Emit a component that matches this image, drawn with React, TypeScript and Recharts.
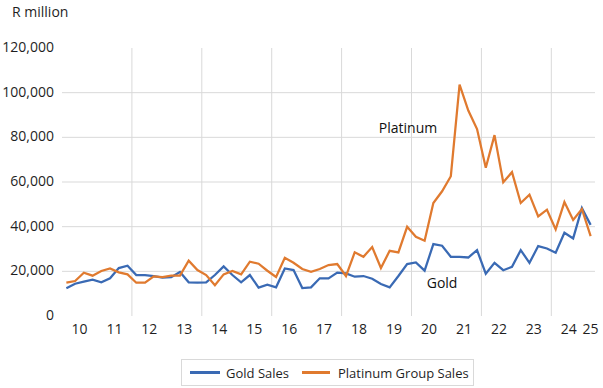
import React from 'react';
import { LineChart, Line, XAxis, YAxis, ReferenceLine, ReferenceDot, Legend } from 'recharts';

const years = ['10', '11', '12', '13', '14', '15', '16', '17', '18', '19', '20', '21', '22', '23', '24', '25'];
const quarterNames = ['Q1', 'Q2', 'Q3', 'Q4'];

const goldSales = [
  12400, 14460, 15350, 16250, 15080, 16870, 21470, 22500, 18350, 18350,
  17900, 17150, 17400, 19700, 15080, 15000, 15080, 18350, 22200, 18350,
  15080, 18350, 12700, 14000, 12840, 21300, 20580, 12530, 12840, 16870,
  16870, 19400, 19100, 17600, 17900, 16700, 14320, 12840, 17900, 23260,
  24000, 20300, 32200, 31450, 26500, 26500, 26200, 29500, 18950, 23800,
  20500, 22000, 29500, 23800, 31300, 30250, 28300, 37300, 34750, 48300,
  40800,
];

const platinumSales = [
  14900, 15660, 19400, 18050, 20130, 21300, 19550, 18660, 14900, 14900,
  17760, 17400, 18050, 18050, 24750, 20580, 18350, 13740, 18660, 20130,
  18660, 24300, 23400, 20270, 17450, 26080, 23850, 21030, 19830, 21030,
  22800, 23260, 17900, 28500, 26530, 30870, 21470, 29200, 28500, 39950,
  35470, 33700, 50600, 55850, 62600, 103600, 92000, 83700, 66400, 81000,
  59900, 64400, 50600, 54350, 44600, 47600, 38800, 51000, 43000, 47900,
  35800,
];

const yTicks = [0, 20000, 40000, 60000, 80000, 100000, 120000];
const yGridValues = [20000, 40000, 60000, 80000, 100000];

const annotations = [
  { text: 'Platinum', x: 39.1, y: 84300 },
  { text: 'Gold', x: 43.0, y: 14900 },
];

const categories: string[] = years.flatMap((y, k) =>
  k === years.length - 1 ? [y + 'Q1'] : quarterNames.map((q) => y + q)
);

const data = categories.map((c, i) => ({
  i,
  label: c,
  gold: goldSales[i],
  platinum: platinumSales[i],
}));

const lastIndex = categories.length - 1;
// year label sits at the centre of its quarters
const xTicks = years.map((_, k) => Math.min(k * 4 + 1.5, lastIndex));
// vertical gridlines between every second year group
const xGridValues = years
  .map((_, k) => k * 4 - 0.5)
  .filter((v, k) => k > 0 && k % 2 === 0 && v < lastIndex);

const GOLD = '#3A6AB4';
const PLAT = '#E07A2F';
const FONT = '"Open Sans", sans-serif';
const GRID = '#d9d9d9';

const LegendBox = () => (
  <div
    style={{
      boxSizing: 'border-box',
      width: 293,
      height: 27,
      border: '1px solid #d9d9d9',
      display: 'flex',
      alignItems: 'center',
      fontFamily: FONT,
      fontSize: 13,
      color: '#1f1f1f',
      paddingLeft: 8,
      whiteSpace: 'nowrap',
    }}
  >
    <span style={{ display: 'inline-block', width: 30, height: 2.5, background: GOLD, marginRight: 6 }} />
    <span style={{ marginRight: 13 }}>Gold Sales</span>
    <span style={{ display: 'inline-block', width: 28, height: 2.5, background: PLAT, marginRight: 8 }} />
    <span>Platinum Group Sales</span>
  </div>
);

export default function App() {
  return (
    <div style={{ position: 'absolute', left: 0, top: 0, width: 603, height: 388, background: '#fff' }}>
      <div
        style={{
          position: 'absolute',
          left: 12,
          top: 5,
          fontFamily: FONT,
          fontSize: 14,
          lineHeight: '14px',
          color: '#1f1f1f',
          zIndex: 2,
        }}
      >
        R million
      </div>
      <LineChart width={603} height={388} data={data} margin={{ top: 48, right: 8, bottom: 42, left: 0 }}>
        {yGridValues.map((v) => (
          <ReferenceLine key={'h' + v} y={v} stroke={GRID} strokeWidth={1} />
        ))}
        {xGridValues.map((v) => (
          <ReferenceLine key={'v' + v} x={v} stroke={GRID} strokeWidth={1} />
        ))}
        <XAxis
          dataKey="i"
          type="number"
          domain={[-0.5, lastIndex + 0.5]}
          ticks={xTicks}
          interval={0}
          tickFormatter={(v: number) => years[Math.floor(v / 4)]}
          axisLine={false}
          tickLine={false}
          height={30}
          tick={{ fontFamily: FONT, fontSize: 14, fill: '#1f1f1f' }}
        />
        <YAxis
          type="number"
          domain={[0, 120000]}
          ticks={yTicks}
          interval={0}
          width={62}
          axisLine={false}
          tickLine={false}
          tickFormatter={(v: number) => v.toLocaleString('en-US')}
          tick={{ fontFamily: FONT, fontSize: 14, fill: '#1f1f1f', dy: -1 }}
        />
        <Line
          type="linear"
          dataKey="gold"
          name="Gold Sales"
          stroke={GOLD}
          strokeWidth={2.25}
          dot={false}
          isAnimationActive={false}
        />
        <Line
          type="linear"
          dataKey="platinum"
          name="Platinum Group Sales"
          stroke={PLAT}
          strokeWidth={2.25}
          dot={false}
          isAnimationActive={false}
        />
        {annotations.map((a) => (
          <ReferenceDot
            key={a.text}
            x={a.x}
            y={a.y}
            r={0}
            fill="none"
            stroke="none"
            label={{ value: a.text, position: 'center', fontFamily: FONT, fontSize: 14, fill: '#111' }}
          />
        ))}
        <Legend
          verticalAlign="middle"
          align="center"
          wrapperStyle={{ left: 181, top: 359, width: 293, height: 27 }}
          content={() => <LegendBox />}
        />
      </LineChart>
    </div>
  );
}
